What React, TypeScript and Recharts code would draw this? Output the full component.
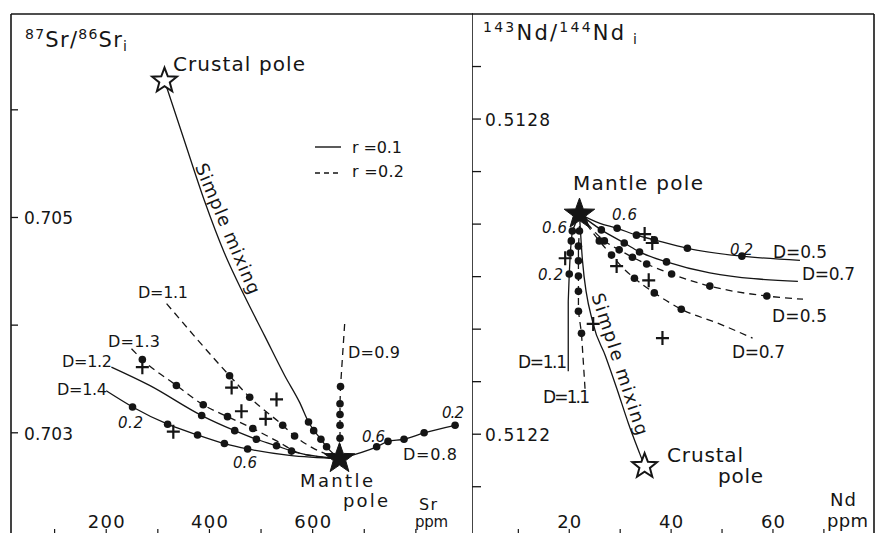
import React from "react";
import { ScatterChart, Scatter, XAxis, YAxis, ReferenceLine } from "recharts";

// ---------- Sr panel (x: Sr ppm, y: 87Sr/86Sr initial) ----------
const srTicksX = [100, 200, 300, 400, 500, 600, 700, 800];
const srLabelsX = [200, 400, 600];
const srTicksY = [0.703, 0.704, 0.705, 0.706];
const srLabelsY = ["0.703", "0.705"];

const srMantle = [[652, 0.70276]];
const srCrust = [[313, 0.70627]];
const srMixing = [[313, 0.70627], [351, 0.70572], [390, 0.70516], [429, 0.70467], [468, 0.70427], [507, 0.7039], [546, 0.70353], [575, 0.70328], [592, 0.7031], [616, 0.70294], [627, 0.70287], [652, 0.70276]];
const srMixingDots = [[592, 0.7031], [602, 0.70302], [616, 0.70294], [627, 0.70287]];
const srD11 = [[317, 0.7042], [439, 0.70353], [478, 0.70333], [542, 0.70307], [565, 0.70297], [600, 0.70286], [652, 0.70276]];
const srD11Dots = [[439, 0.70353], [478, 0.70333], [542, 0.70307], [565, 0.70297]];
const srD13 = [[249, 0.70378], [270, 0.70368], [336, 0.70344], [388, 0.70326], [435, 0.70315], [484, 0.70304], [532, 0.70292], [575, 0.70281], [652, 0.70276]];
const srD13Dots = [[270, 0.70368], [336, 0.70344], [388, 0.70326], [435, 0.70315], [484, 0.70304]];
const srD12 = [[210, 0.70361], [284, 0.70344], [385, 0.70316], [449, 0.70302], [491, 0.70294], [530, 0.70288], [559, 0.70283], [652, 0.70276]];
const srD12Dots = [[385, 0.70316], [449, 0.70302], [491, 0.70294], [530, 0.70288], [559, 0.70283]];
const srD14 = [[200, 0.70339], [251, 0.70324], [319, 0.70308], [377, 0.70298], [429, 0.7029], [474, 0.70285], [555, 0.70279], [652, 0.70276]];
const srD14Dots = [[251, 0.70324], [319, 0.70308], [377, 0.70298], [429, 0.7029], [474, 0.70285]];
const srD09 = [[662, 0.70401], [654, 0.70343], [653, 0.70327], [653, 0.70317], [653, 0.70307], [653, 0.70295], [652, 0.70276]];
const srD09Dots = [[654, 0.70343], [653, 0.70327], [653, 0.70317], [653, 0.70307], [653, 0.70295]];
const srD08 = [[652, 0.70276], [724, 0.70287], [746, 0.70292], [777, 0.70294], [816, 0.703], [876, 0.70307]];
const srD08Dots = [[724, 0.70287], [746, 0.70292], [777, 0.70294], [816, 0.703], [876, 0.70307]];
const srSamples = [[270, 0.70361], [443, 0.70342], [530, 0.70331], [462, 0.7032], [509, 0.70313], [330, 0.70301]];

// ---------- Nd panel (x: Nd ppm, y: 143Nd/144Nd initial) ----------
const ndTicksX = [10, 20, 30, 40, 50, 60, 70];
const ndLabelsX = [20, 40, 60];
const ndTicksY = [0.5121, 0.5122, 0.5123, 0.5124, 0.5125, 0.5126, 0.5127, 0.5128, 0.5129];
const ndLabelsY = ["0.5122", "0.5128"];

const ndMantle = [[22.0, 0.512619]];
const ndCrust = [[34.8, 0.512139]];
const ndMixing = [[22.0, 0.512619], [22.6, 0.51253], [24.7, 0.51241], [27.1, 0.512349], [29.3, 0.512288], [31.6, 0.512221], [33.8, 0.512164], [34.8, 0.512139]];
const ndD05 = [[22.0, 0.512619], [25.9, 0.512602], [29.4, 0.512592], [33.2, 0.512579], [36.7, 0.51257], [43.2, 0.512554], [53.9, 0.512539], [65.3, 0.512531]];
const ndD05Dots = [[29.4, 0.512592], [33.2, 0.512579], [36.7, 0.51257], [43.2, 0.512554], [53.9, 0.512539]];
const ndD07 = [[22.0, 0.512619], [26.3, 0.512589], [30.8, 0.512564], [33.8, 0.512547], [39.1, 0.512528], [47.6, 0.512507], [64.9, 0.512491]];
const ndD07Dots = [[26.3, 0.512589], [30.8, 0.512564], [33.8, 0.512547], [39.1, 0.512528]];
const ndD05b = [[22.0, 0.512619], [26.9, 0.512568], [29.8, 0.512551], [32.4, 0.512537], [35.2, 0.512524], [40.1, 0.512505], [47.6, 0.512482], [58.8, 0.512463], [65.9, 0.512457]];
const ndD05bDots = [[26.9, 0.512568], [29.8, 0.512551], [32.4, 0.512537], [35.2, 0.512524], [40.1, 0.512505], [47.6, 0.512482], [58.8, 0.512463]];
const ndD07b = [[22.0, 0.512619], [25.9, 0.512568], [28.3, 0.512541], [30.6, 0.512516], [32.8, 0.512497], [36.7, 0.512469], [42.0, 0.512438], [49.5, 0.51241], [56.0, 0.512383]];
const ndD07bDots = [[25.9, 0.512568], [28.3, 0.512541], [32.8, 0.512497], [36.7, 0.512469], [42.0, 0.512438]];
const ndD11 = [[22.0, 0.512619], [20.6, 0.512587], [20.4, 0.512568], [20.2, 0.512545], [20.0, 0.512505], [19.8, 0.512453], [19.8, 0.51232]];
const ndD11Dots = [[20.6, 0.512587], [20.4, 0.512568], [20.2, 0.512545], [20.0, 0.512505]];
const ndD11b = [[22.0, 0.512619], [22.0, 0.512587], [21.8, 0.512558], [21.8, 0.51253], [21.8, 0.512501], [21.8, 0.512472], [21.8, 0.512434], [22.4, 0.512392], [23.1, 0.512286]];
const ndD11bDots = [[22.0, 0.512587], [21.8, 0.512558], [21.8, 0.51253], [21.8, 0.512501], [21.8, 0.512472], [21.8, 0.512434], [22.4, 0.512392]];
const ndSamples = [[19.2, 0.512535], [34.8, 0.512581], [36.3, 0.512564], [29.3, 0.51252], [35.6, 0.512493], [24.7, 0.51241], [38.3, 0.512383]];

const FONT = '"DejaVu Sans", "Liberation Sans", Arial, sans-serif';
const INK = "#151515";

const pts = (a: number[][]) => a.map(([x, y]) => ({ x, y }));

function starPath(cx: number, cy: number, R: number, r: number) {
  let d = "";
  for (let i = 0; i < 10; i++) {
    const a = -Math.PI / 2 + (i * Math.PI) / 5;
    const rad = i % 2 === 0 ? R : r;
    d += (i === 0 ? "M" : "L") + (cx + rad * Math.cos(a)).toFixed(1) + "," + (cy + rad * Math.sin(a)).toFixed(1);
  }
  return d + "Z";
}

const NoMark = () => <g />;
const Dot = (p: any) => <circle cx={p.cx} cy={p.cy} r={3.8} fill={INK} />;
const Plus = (p: any) => (
  <path d={`M${p.cx - 6.5},${p.cy}H${p.cx + 6.5}M${p.cx},${p.cy - 7}V${p.cy + 7}`} stroke={INK} strokeWidth={2.2} />
);
const FilledStar = (p: any) => <path d={starPath(p.cx, p.cy, 16, 6.5)} fill={INK} stroke={INK} strokeWidth={1} />;
const OpenStar = (p: any) => <path d={starPath(p.cx, p.cy, 13, 5.5)} fill="#fff" stroke={INK} strokeWidth={2} />;

function curve(key: string, data: number[][], dashed: boolean, joint: any = "monotoneX") {
  return (
    <Scatter
      key={key}
      data={pts(data)}
      shape={NoMark}
      line={{ stroke: INK, strokeWidth: 1.3, strokeDasharray: dashed ? "7 5" : undefined }}
      lineJointType={joint}
      isAnimationActive={false}
    />
  );
}

function marks(key: string, data: number[][], shape: any) {
  return <Scatter key={key} data={pts(data)} shape={shape} isAnimationActive={false} />;
}

const xTick = (labels: number[], width: number) => (p: any) => {
  const v = p.payload.value;
  if (!labels.includes(v)) return <g />;
  return (
    <text x={p.x} y={528} textAnchor="middle" fontSize={18} fontFamily={FONT} fill={INK} textLength={width} lengthAdjust="spacing">
      {v}
    </text>
  );
};

const yTick = (labels: string[], digits: number, width: number) => (p: any) => {
  const s = Number(p.payload.value).toFixed(digits);
  if (!labels.includes(s)) return <g />;
  return (
    <text x={p.x} y={p.y} dy={7} textAnchor="start" fontSize={17} fontFamily={FONT} fill={INK} textLength={width} lengthAdjust="spacing">
      {s}
    </text>
  );
};

type Ann = { t: string; x: number; y: number; w: number; fs?: number; it?: boolean; rot?: number };

const notes: Ann[] = [
  { t: "Crustal pole", x: 173, y: 71, w: 132, fs: 20 },
  { t: "r =0.1", x: 352, y: 153, w: 50, fs: 16 },
  { t: "r =0.2", x: 352, y: 177, w: 52, fs: 16 },
  { t: "D=1.1", x: 138, y: 298, w: 50, fs: 16 },
  { t: "D=1.3", x: 108, y: 347, w: 52, fs: 16 },
  { t: "D=1.2", x: 62, y: 367, w: 50, fs: 16 },
  { t: "D=1.4", x: 57, y: 395, w: 50, fs: 16 },
  { t: "D=0.9", x: 348, y: 358, w: 52, fs: 16 },
  { t: "D=0.8", x: 403, y: 460, w: 54, fs: 16 },
  { t: "0.2", x: 118, y: 428, w: 25, fs: 15, it: true },
  { t: "0.6", x: 233, y: 468, w: 24, fs: 15, it: true },
  { t: "0.6", x: 362, y: 442, w: 23, fs: 15, it: true },
  { t: "0.2", x: 442, y: 418, w: 22, fs: 15, it: true },
  { t: "Mantle", x: 300, y: 487, w: 73, fs: 18 },
  { t: "pole", x: 343, y: 507, w: 45, fs: 18 },
  { t: "Sr", x: 419, y: 510, w: 18, fs: 16 },
  { t: "ppm", x: 415, y: 527, w: 33, fs: 15 },
  { t: "Mantle pole", x: 573, y: 190, w: 130, fs: 20 },
  { t: "0.6", x: 612, y: 220, w: 25, fs: 15, it: true },
  { t: "0.6", x: 542, y: 233, w: 25, fs: 15, it: true },
  { t: "0.2", x: 538, y: 280, w: 25, fs: 15, it: true },
  { t: "0.2", x: 730, y: 255, w: 23, fs: 15, it: true },
  { t: "D=0.5", x: 773, y: 258, w: 54, fs: 17 },
  { t: "D=0.7", x: 802, y: 280, w: 53, fs: 17 },
  { t: "D=0.5", x: 772, y: 322, w: 55, fs: 17 },
  { t: "D=0.7", x: 732, y: 358, w: 53, fs: 17 },
  { t: "D=1.1", x: 518, y: 368, w: 49, fs: 17 },
  { t: "D=1.1", x: 543, y: 403, w: 47, fs: 17 },
  { t: "Crustal", x: 667, y: 462, w: 76, fs: 20 },
  { t: "pole", x: 718, y: 483, w: 45, fs: 20 },
  { t: "Nd", x: 830, y: 506, w: 26, fs: 18 },
  { t: "ppm", x: 827, y: 527, w: 41, fs: 18 },
];

const rotated: Ann[] = [
  { t: "Simple mixing", x: 222, y: 231, w: 140, fs: 18, rot: 67 },
  { t: "Simple mixing", x: 614, y: 366, w: 148, fs: 18, rot: 72 },
];

function Overlay() {
  return (
    <svg width={876} height={533} style={{ position: "absolute", left: 0, top: 0, pointerEvents: "none" }}>
      <g fontFamily={FONT} fill={INK}>
        {/* panel titles */}
        <text x={25} y={47} fontSize={21} textLength={102} lengthAdjust="spacing">
          <tspan fontSize={14} dy={-8}>87</tspan>
          <tspan dy={8}>Sr/</tspan>
          <tspan fontSize={14} dy={-8}>86</tspan>
          <tspan dy={8}>Sr</tspan>
          <tspan fontSize={14} dy={4}>i</tspan>
        </text>
        <text x={483} y={40} fontSize={21} textLength={154} lengthAdjust="spacing">
          <tspan fontSize={14} dy={-8}>143</tspan>
          <tspan dy={8}>Nd/</tspan>
          <tspan fontSize={14} dy={-8}>144</tspan>
          <tspan dy={8}>Nd</tspan>
          <tspan fontSize={14} dy={4}> i</tspan>
        </text>
        {notes.map((n, i) => (
          <text key={i} x={n.x} y={n.y} fontSize={n.fs} fontStyle={n.it ? "italic" : "normal"} textLength={n.w} lengthAdjust="spacing">
            {n.t}
          </text>
        ))}
        {rotated.map((n, i) => (
          <text key={"r" + i} x={n.x} y={n.y} fontSize={n.fs} textAnchor="middle" transform={`rotate(${n.rot} ${n.x} ${n.y})`} textLength={n.w} lengthAdjust="spacing">
            {n.t}
          </text>
        ))}
      </g>
      {/* legend keys */}
      <line x1={315} x2={341} y1={147} y2={147} stroke={INK} strokeWidth={1.4} />
      <line x1={315} x2={341} y1={173} y2={173} stroke={INK} strokeWidth={1.4} strokeDasharray="5 4" />
    </svg>
  );
}

export default function App() {
  return (
    <div style={{ position: "absolute", left: 0, top: 0, width: 876, height: 533, background: "#fff", overflow: "hidden" }}>
      <div style={{ position: "absolute", left: 0, top: 0 }}>
        <ScatterChart width={473} height={534} margin={{ top: 14, right: 0, bottom: 0, left: 11 }}>
          <XAxis
            type="number"
            dataKey="x"
            domain={[15.5, 910.7]}
            ticks={srTicksX}
            height={1}
            mirror
            tickSize={5}
            axisLine={false}
            tickLine={{ stroke: INK, strokeWidth: 1.2 }}
            tick={xTick(srLabelsX, 37)}
            allowDataOverflow
          />
          <YAxis
            type="number"
            dataKey="y"
            domain={[0.70206, 0.70689]}
            ticks={srTicksY}
            width={1}
            mirror
            tickSize={7}
            tickMargin={6}
            axisLine={{ stroke: INK, strokeWidth: 1.6 }}
            tickLine={{ stroke: INK, strokeWidth: 1.3 }}
            tick={yTick(srLabelsY, 3, 49)}
            allowDataOverflow
          />
          <ReferenceLine y={0.70689} stroke={INK} strokeWidth={1.6} />
          {curve("mix", srMixing, false)}
          {curve("d11", srD11, true)}
          {curve("d13", srD13, true)}
          {curve("d12", srD12, false)}
          {curve("d14", srD14, false)}
          {curve("d09", srD09, true, "linear")}
          {curve("d08", srD08, false)}
          {marks("mixDots", srMixingDots, Dot)}
          {marks("d11Dots", srD11Dots, Dot)}
          {marks("d13Dots", srD13Dots, Dot)}
          {marks("d12Dots", srD12Dots, Dot)}
          {marks("d14Dots", srD14Dots, Dot)}
          {marks("d09Dots", srD09Dots, Dot)}
          {marks("d08Dots", srD08Dots, Dot)}
          {marks("samples", srSamples, Plus)}
          {marks("crust", srCrust, OpenStar)}
          {marks("mantle", srMantle, FilledStar)}
        </ScatterChart>
      </div>
      <div style={{ position: "absolute", left: 472, top: 0 }}>
        <ScatterChart width={404} height={534} margin={{ top: 14, right: 2, bottom: 0, left: 0 }}>
          <XAxis
            type="number"
            dataKey="x"
            domain={[0.9, 79.84]}
            ticks={ndTicksX}
            height={1}
            mirror
            tickSize={5}
            axisLine={false}
            tickLine={{ stroke: INK, strokeWidth: 1.2 }}
            tick={xTick(ndLabelsX, 24)}
            allowDataOverflow
          />
          <YAxis
            type="number"
            dataKey="y"
            domain={[0.51201, 0.513]}
            ticks={ndTicksY}
            width={1}
            mirror
            tickSize={9}
            tickMargin={4}
            axisLine={{ stroke: INK, strokeWidth: 1.6 }}
            tickLine={{ stroke: INK, strokeWidth: 1.3 }}
            tick={yTick(ndLabelsY, 4, 65)}
            allowDataOverflow
          />
          <ReferenceLine y={0.513} stroke={INK} strokeWidth={1.6} />
          <ReferenceLine x={79.84} stroke={INK} strokeWidth={1.6} />
          {curve("mix", ndMixing, false)}
          {curve("d05", ndD05, false)}
          {curve("d07", ndD07, false)}
          {curve("d05b", ndD05b, true)}
          {curve("d07b", ndD07b, true)}
          {curve("d11", ndD11, false, "linear")}
          {curve("d11b", ndD11b, true, "linear")}
          {marks("d05Dots", ndD05Dots, Dot)}
          {marks("d07Dots", ndD07Dots, Dot)}
          {marks("d05bDots", ndD05bDots, Dot)}
          {marks("d07bDots", ndD07bDots, Dot)}
          {marks("d11Dots", ndD11Dots, Dot)}
          {marks("d11bDots", ndD11bDots, Dot)}
          {marks("samples", ndSamples, Plus)}
          {marks("crust", ndCrust, OpenStar)}
          {marks("mantle", ndMantle, FilledStar)}
        </ScatterChart>
      </div>
      <Overlay />
    </div>
  );
}
